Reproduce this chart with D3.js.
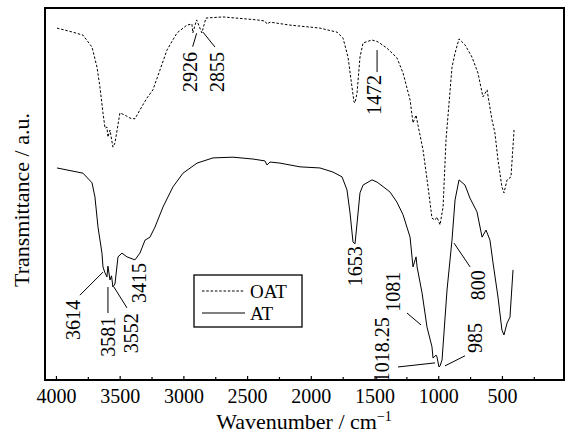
<!DOCTYPE html>
<html><head><meta charset="utf-8">
<script src="https://cdn.jsdelivr.net/npm/d3@7"></script>
<style>body{margin:0;background:#fff}svg{display:block}
svg text{font-family:"Liberation Serif","Times New Roman",Times,serif !important;fill:#000}</style>
</head><body><svg id="c" width="574" height="436"></svg>
<script>
// ---- data ----
const atWavenumber = [3992,3788,3717,3694,3670,3639,3631,3615,3600,3592,3576,3564,3553,3537,3513,3482,3443,3380,3341,3301,3262,3223,3160,3082,3003,2893,2768,2611,2454,2360,2344,2320,2242,2085,1928,1826,1755,1716,1692,1669,1653,1637,1614,1590,1520,1480,1418,1378,1324,1276,1221,1198,1174,1166,1127,1088,1049,1041,1017,1010,994,986,970,931,892,868,837,790,751,696,656,625,594,570,531,500,484,460,437,413];
const atValue = [57.0,55.6,53.0,49.2,41.1,34.1,30.4,28.8,27.7,30.6,26.9,28.0,25.0,25.8,33.1,34.1,33.1,32.3,34.1,37.6,38.4,41.1,46.5,51.9,55.6,58.3,59.7,59.9,59.4,58.9,57.8,58.6,58.3,57.3,57.0,55.9,54.6,51.1,44.9,37.1,36.6,42.2,50.3,52.4,53.8,53.2,51.6,50.5,47.8,44.4,38.4,30.4,33.1,30.4,23.4,14.2,8.9,5.9,6.7,6.2,3.5,3.8,5.4,24.2,37.6,48.4,53.8,52.4,48.9,45.2,38.4,40.3,37.6,31.5,22.3,13.4,12.1,15.3,16.9,29.6];
const oatWavenumber = [3992,3867,3788,3717,3678,3655,3631,3615,3600,3592,3576,3553,3537,3498,3458,3419,3380,3341,3286,3239,3184,3129,3050,2972,2933,2926,2896,2855,2823,2689,2422,2360,2344,2320,2163,1928,1794,1747,1708,1677,1661,1653,1637,1614,1590,1520,1473,1402,1324,1276,1221,1198,1174,1159,1119,1080,1049,1025,1010,986,962,939,915,892,868,837,790,735,688,649,617,578,555,531,500,484,460,429,405];
const oatValue = [94.6,93.5,92.7,89.5,84.1,78.8,71.8,67.7,68.0,65.3,67.2,62.6,63.7,71.8,71.2,70.4,70.2,72.6,75.8,78.0,83.3,88.7,93.3,95.4,95.7,93.3,96.8,93.3,97.3,97.6,96.8,96.5,95.7,96.2,95.4,94.6,93.5,91.9,86.8,78.8,74.7,74.5,77.2,86.8,90.6,91.4,90.9,89.2,86.6,82.5,75.3,69.1,71.2,68.5,61.8,51.9,43.5,43.0,43.8,41.7,46.5,64.5,74.5,84.1,87.9,91.7,90.1,86.8,82.5,76.1,78.0,69.9,66.4,59.1,51.9,50.3,53.8,54.6,67.2];
const seriesNames = ["OAT","AT"];
const xTickValues = [4000,3500,3000,2500,2000,1500,1000,500];
const xMinorTicks = [3750,3250,2750,2250,1750,1250,750,250];
// peak labels: text, label centre [wavenumber, value], leader [wn1, v1, wn2, v2] or null
const peakText = ["3614","3581","3552","3415","2926","2855","1472","1653","1081","1018.25","985","800"];
const peakLabelAt = [[3867,16.1],[3592,11.6],[3411,12.6],[3349,26.1],[2948,82.8],[2736,82.8],[1504,76.6],[1653,30.6],[1355,23.7],[1441,8.1],[711,11.3],[688,25.5]];
const peakLeader = [[3812,22.8,3631,29.0],[3592,25.0,3592,18.0],[3545,25.0,3443,19.4],null,[2896,93.2,2927,89.6],[2846,93.5,2752,89.5],[1480,88.7,1480,82.8],null,[1245,18.0,1135,14.8],[1316,3.5,1025,4.6],[947,3.8,790,6.5],[876,36.8,750,30.4]];

// ---- layout ----
const L = 45, R = 564, T = 8, B = 380;
const svg = d3.select("#c");
const x = d3.scaleLinear().domain([4086, 13]).range([L, R]);
const y = d3.scaleLinear().domain([0, 100]).range([B, T]);

// axis
const ax = svg.append("g").attr("transform", `translate(0,${B})`)
  .call(d3.axisBottom(x).tickValues(xTickValues).tickSize(-4).tickPadding(9).tickFormat(d3.format("d")));
ax.select(".domain").remove();
ax.selectAll(".tick line").attr("stroke", "#000").attr("stroke-width", 1.2);
ax.selectAll(".tick text").attr("font-size", 20);
const axm = svg.append("g").attr("transform", `translate(0,${B})`)
  .call(d3.axisBottom(x).tickValues(xMinorTicks).tickSize(-3).tickFormat(""));
axm.select(".domain").remove();
axm.selectAll(".tick line").attr("stroke", "#000").attr("stroke-width", 1.2);

// curves
const line = d3.line().x(d => x(d[0])).y(d => y(d[1]));
const oat = oatWavenumber.map((w, i) => [w, oatValue[i]]);
const at = atWavenumber.map((w, i) => [w, atValue[i]]);
svg.append("path").datum(oat).attr("d", line).attr("fill", "none").attr("stroke", "#000")
  .attr("stroke-width", 1).attr("stroke-dasharray", "2.5,1.8");
svg.append("path").datum(at).attr("d", line).attr("fill", "none").attr("stroke", "#000").attr("stroke-width", 1);

// frame
svg.append("rect").attr("x", L).attr("y", T).attr("width", R - L).attr("height", B - T)
  .attr("fill", "none").attr("stroke", "#000").attr("stroke-width", 2);

// peak labels
peakText.forEach((t, i) => {
  const [lw, lv] = peakLabelAt[i];
  svg.append("text").attr("transform", `translate(${x(lw)},${y(lv)}) rotate(-90)`)
    .attr("text-anchor", "middle").attr("dominant-baseline", "central")
    .attr("font-size", 20).text(t);
  const ld = peakLeader[i];
  if (ld) svg.append("line").attr("x1", x(ld[0])).attr("y1", y(ld[1])).attr("x2", x(ld[2])).attr("y2", y(ld[3]))
    .attr("stroke", "#000").attr("stroke-width", 1);
});

// legend
const lg = svg.append("g");
lg.append("rect").attr("x", 194).attr("y", 275).attr("width", 108).attr("height", 52)
  .attr("fill", "#fff").attr("stroke", "#000").attr("stroke-width", 1.3);
seriesNames.forEach((n, i) => {
  const yy = 291 + i * 22;
  lg.append("line").attr("x1", 202).attr("x2", 245).attr("y1", yy).attr("y2", yy)
    .attr("stroke", "#000").attr("stroke-width", 1).attr("stroke-dasharray", i === 0 ? "2.5,1.8" : null);
  lg.append("text").attr("x", 250).attr("y", yy).attr("dominant-baseline", "central")
    .attr("font-size", 19).text(n);
});

// axis titles
const xt = svg.append("text").attr("x", 304).attr("y", 429).attr("text-anchor", "middle")
  .attr("font-size", 22);
xt.append("tspan").text("Wavenumber / cm");
xt.append("tspan").attr("font-size", 14).attr("dy", -8).text("−1");
svg.append("text").attr("transform", "translate(21,200) rotate(-90)").attr("text-anchor", "middle")
  .attr("dominant-baseline", "central").attr("font-size", 22).text("Transmittance / a.u.");
</script></body></html>
